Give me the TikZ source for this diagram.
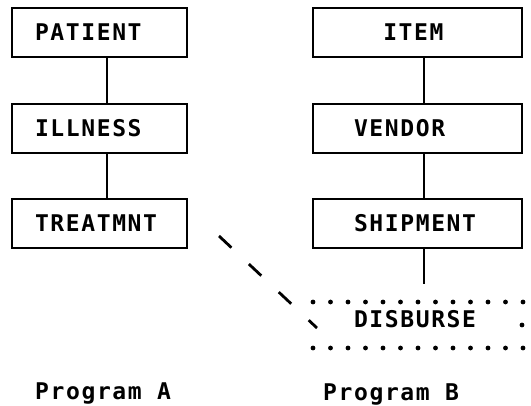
\documentclass[tikz,border=0pt]{standalone}
\usepackage{fontspec}
\newfontfamily\printfont[LetterSpace=7]{DejaVu Sans Mono}
\usetikzlibrary{calc}
\begin{document}
\begin{tikzpicture}[x=1pt,y=-1pt,
  every node/.style={font=\printfont\bfseries\fontsize{23}{23}\selectfont, inner sep=0pt},
  field/.style={align=left, text height=16.6pt, text depth=0pt, inner ysep=0pt},
  record/.style={field, draw, line width=2.3pt, minimum height=49pt},
  leftrec/.style={record, text width=129pt, inner xsep=23pt},
  rightrec/.style={record, text width=127pt, inner xsep=41pt},
  link/.style={line width=2.4pt},
  optlink/.style={line width=2.8pt, dash pattern=on 17pt off 24pt},
  dot/.style={fill, circle, minimum size=4.8pt, inner sep=0pt}]
\useasboundingbox (0,0) rectangle (531,405);

% Program A chain
\node[leftrec] (patient) at (99.5,32.5) {PATIENT};
\node[leftrec] (illness) at (99.5,128.5) {ILLNESS};
\node[leftrec] (treat) at (99.5,223.5) {TREATMNT};
\draw[link] ($(patient.south)+(7.5,0)$) -- ($(illness.north)+(7.5,0)$);
\draw[link] ($(illness.south)+(7.5,0)$) -- ($(treat.north)+(7.5,0)$);

% Program B chain
\node[rightrec] (item) at (417.5,32.5) {\phantom{VE}ITEM};
\node[rightrec] (vendor) at (417.5,128.5) {VENDOR};
\node[rightrec] (ship) at (417.5,223.5) {SHIPMENT};
\draw[link] ($(item.south)+(6.5,0)$) -- ($(vendor.north)+(6.5,0)$);
\draw[link] ($(vendor.south)+(6.5,0)$) -- ($(ship.north)+(6.5,0)$);

% Logical record shared with Program A
\node[field, text width=127pt, inner xsep=41pt] (disb) at (417.5,319.5) {DISBURSE};
\coordinate (shipend) at ($(ship.south)+(6.5,35)$);
\draw[link] ($(ship.south)+(6.5,0)$) -- (shipend);
\foreach \i in {0,...,12} {
  \node[dot] (dt\i) at ($(disb.center)+(-104.5+\i*17.5,-17.5)$) {};
  \node[dot] (db\i) at ($(disb.center)+(-104.5+\i*17.5,28.5)$) {};
}
\node[dot] (dr) at ($(disb.center)+(104.5,5.5)$) {};

% Dashed path from TREATMNT to DISBURSE
\coordinate (dashstart) at (219,236);
\coordinate (dashend) at (317,328);
\draw[optlink] (dashstart) -- (dashend);

% Program labels
\node[anchor=base west] (proga) at (35,399) {Program A};
\node[anchor=base west] (progb) at (323,400) {Program B};
\end{tikzpicture}
\end{document}
